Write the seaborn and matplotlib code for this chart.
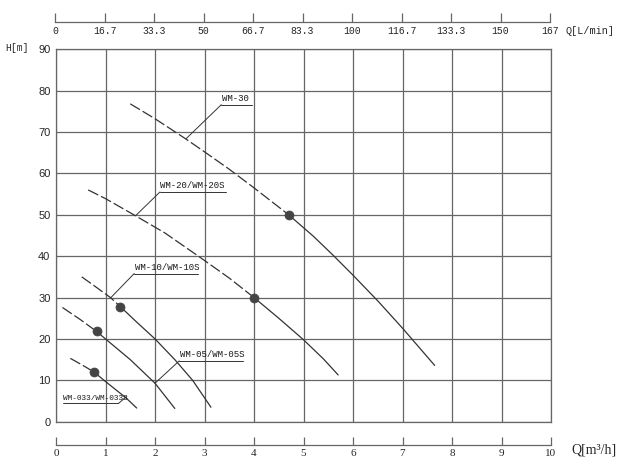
import numpy as np
import pandas as pd
import matplotlib.pyplot as plt
import seaborn as sns

# pump curves: flow Q [m3/h], head H [m]
models = ['WM-033/WM-033S', 'WM-05/WM-05S', 'WM-10/WM-10S', 'WM-20/WM-20S', 'WM-30']

q_033 = [0.29, 0.5, 0.77, 0.97, 1.2, 1.41, 1.63]
h_033 = [15.3, 13.9, 12.0, 10.0, 7.8, 5.8, 3.3]

q_05 = [0.13, 0.5, 0.82, 1.0, 1.5, 2.0, 2.4]
h_05 = [27.6, 24.6, 21.8, 20.0, 15.0, 9.3, 3.2]

q_10 = [0.52, 0.8, 1.1, 1.3, 1.6, 2.0, 2.4, 2.76, 3.13]
h_10 = [35.0, 32.6, 30.0, 27.8, 24.4, 20.0, 15.0, 10.0, 3.5]

q_20 = [0.65, 1.0, 1.6, 2.2, 2.9, 3.5, 4.0, 4.5, 5.0, 5.4, 5.7]
h_20 = [56.0, 53.9, 49.8, 45.6, 39.8, 34.7, 30.0, 25.0, 19.8, 15.2, 11.3]

q_30 = [1.5, 2.0, 2.6, 3.0, 3.5, 4.0, 4.7, 5.2, 5.6, 6.0, 6.5, 7.0, 7.65]
h_30 = [76.8, 73.2, 68.5, 65.2, 61.0, 56.5, 50.0, 44.8, 40.2, 35.4, 29.2, 22.6, 13.6]

# rated (duty) points, the curve is dashed left of them
duty_q = [0.77, 0.82, 1.3, 4.0, 4.7]
duty_h = [12.0, 21.8, 27.8, 30.0, 50.0]

q_ticks = [0, 1, 2, 3, 4, 5, 6, 7, 8, 9, 10]
lmin_labels = ['0', '16.7', '33.3', '50', '66.7', '83.3', '100', '116.7', '133.3', '150', '167']
h_ticks = [0, 10, 20, 30, 40, 50, 60, 70, 80, 90]

# label layout: underline start/end x, underline y, leader start x, leader end (on curve), font size
label_layout = {
    'WM-033/WM-033S': (0.14, 1.26, 4.4, 1.26, 1.43, 6.1, 5.6),
    'WM-05/WM-05S': (2.49, 3.77, 14.7, 2.49, 2.0, 9.3, 6.5),
    'WM-10/WM-10S': (1.58, 2.86, 35.8, 1.58, 1.11, 30.0, 6.5),
    'WM-20/WM-20S': (2.10, 3.43, 55.5, 2.10, 1.61, 49.8, 6.5),
    'WM-30': (3.34, 3.95, 76.6, 3.34, 2.63, 68.4, 6.5),
}

curves = {
    'WM-033/WM-033S': (q_033, h_033),
    'WM-05/WM-05S': (q_05, h_05),
    'WM-10/WM-10S': (q_10, h_10),
    'WM-20/WM-20S': (q_20, h_20),
    'WM-30': (q_30, h_30),
}

sns.set_style('white')
plt.rcParams['font.family'] = ['Liberation Mono', 'DejaVu Sans']

line_col = '#333333'
grid_col = '#666666'

fig = plt.figure(figsize=(6.43, 4.71), dpi=100)
left, width = 56 / 643, 495 / 643
ax = fig.add_axes([left, 49.3 / 471, width, 372.5 / 471])

for i, name in enumerate(models):
    q, h = curves[name]
    df = pd.DataFrame({'Q': q, 'H': h})
    dq = duty_q[i]
    dashed = df[df['Q'] <= dq]
    solid = df[df['Q'] >= dq]
    sns.lineplot(data=dashed, x='Q', y='H', ax=ax, sort=False, color=line_col,
                 lw=0.9, dashes=(9, 2.5))
    sns.lineplot(data=solid, x='Q', y='H', ax=ax, sort=False, color=line_col, lw=0.9)

sns.scatterplot(x=duty_q, y=duty_h, ax=ax, s=42, color='#444444', edgecolor='#444444',
                zorder=5)

# labels with underline and leader line
for name in models:
    x0, x1, yu, xl, xc, yc, fs = label_layout[name]
    ax.plot([x0, x1], [yu, yu], color=line_col, lw=0.7)
    ax.plot([xl, xc], [yu, yc], color=line_col, lw=0.7)
    ax.text(x0 + 0.01, yu + 0.4, name, fontsize=fs, color='#1a1a1a', va='bottom', ha='left')

ax.set_xlim(0, 10)
ax.set_ylim(0, 90)
ax.set_xticks(q_ticks)
ax.set_yticks(h_ticks)
ax.set_xticklabels([])
ax.set_yticklabels([str(v) for v in h_ticks], family='Liberation Sans', fontsize=8)
ax.tick_params(axis='both', length=0, pad=4)
ax.grid(True, color=grid_col, lw=0.9)
ax.set_xlabel('')
ax.set_ylabel('')
for s in ax.spines.values():
    s.set_color(grid_col)
    s.set_linewidth(0.9)

# top axis in L/min
lmin_pos = np.array(q_ticks) * 1000 / 60
ax_top = fig.add_axes([left - 1 / 643, (471 - 22.3) / 471, width, 0.0001])
ax_top.set_xlim(0, 1000 / 6)
ax_top.set_xticks(lmin_pos)
ax_top.set_xticklabels(lmin_labels, fontsize=7)
ax_top.set_yticks([])
ax_top.tick_params(axis='x', bottom=True, direction='in', length=6.5, width=0.9,
                   color=grid_col, pad=3)

# bottom axis in m3/h
ax_bot = fig.add_axes([left, 26 / 471, width, 0.0001])
ax_bot.set_xlim(0, 10)
ax_bot.set_xticks(q_ticks)
ax_bot.set_xticklabels([str(v) for v in q_ticks], family='Liberation Serif', fontsize=8)
ax_bot.set_yticks([])
ax_bot.tick_params(axis='x', bottom=True, direction='in', length=6, width=0.9,
                   color=grid_col, pad=3)

for a in (ax_top, ax_bot):
    a.patch.set_visible(False)
    for k in ['top', 'left', 'right']:
        a.spines[k].set_visible(False)
    a.spines['bottom'].set_color(grid_col)
    a.spines['bottom'].set_linewidth(0.9)

fig.text(566 / 643, (471 - 31) / 471, 'Q[L/min]', fontsize=7.3, va='center', ha='left')
fig.text(571 / 643, (471 - 450) / 471, 'Q[m³/h]', fontsize=10, va='center', ha='left',
         family=['Liberation Serif', 'DejaVu Serif'])
fig.text(5 / 643, (471 - 48) / 471, 'H[m]', fontsize=7, va='center', ha='left')

fig.savefig('out.png', dpi=100)
